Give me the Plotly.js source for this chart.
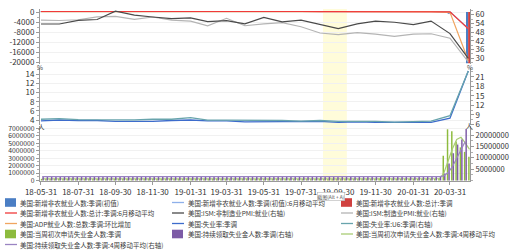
<!DOCTYPE html>
<html><head><meta charset="utf-8">
<script src="https://cdn.plot.ly/plotly-3.0.1.min.js"></script>
<style>html,body{margin:0;padding:0;background:#fff;}#chart{width:513px;height:251px;}</style>
</head><body><div id="chart"></div>
<script>
// ---------- DATA ----------
const monthDates = ['2018-05-31','2018-06-30','2018-07-31','2018-08-31','2018-09-30','2018-10-31','2018-11-30','2018-12-31',
  '2019-01-31','2019-02-28','2019-03-31','2019-04-30','2019-05-31','2019-06-30','2019-07-31','2019-08-31','2019-09-30','2019-10-31','2019-11-30','2019-12-31',
  '2020-01-31','2020-02-29','2020-03-31','2020-04-30'];
const nfpInitial   = [223,213,157,201,134,250,155,312, 304,20,196,263,75,224,164,130,136,128,266,145, 225,273,-701,-20500];
const nfpInitialMA = [207,215,205,209,200,193,185,202, 227,199,204,189,180,199,186,164,159,169,180,172, 183,196,47,-6600];
const nfpTotal     = [270,235,175,282,108,277,176,227, 312,1,189,224,62,182,194,207,208,185,261,184, 214,275,-870,-20537];
const nfpTotalMA   = [195,215,217,232,214,225,203,208, 218,218,198,213,197,166,195,176,184,191,205,200, 209,210,41,-6700];
const adpChange    = [178,177,219,163,230,227,179,271, 213,183,129,275,27,102,156,195,135,125,67,202, 291,183,-149,-19400];
const ismNonMfgEmp = [53.6,53.6,56.1,56.7,62.4,59.7,58.4,57.3, 57.8,55.2,55.9,53.7,58.1,55.0,56.2,53.1,50.4,53.7,55.5,54.8, 53.1,55.6,47.0,30.0];
const ismMfgEmp    = [56.3,56.0,56.5,58.5,58.8,56.8,58.4,56.2, 55.5,52.3,57.5,52.4,53.7,54.5,51.7,47.4,46.3,47.7,46.6,45.1, 46.6,46.9,43.8,27.5];
const unempRate    = [3.8,4.0,3.9,3.9,3.7,3.7,3.7,3.9, 4.0,3.8,3.8,3.6,3.6,3.7,3.7,3.7,3.5,3.6,3.5,3.5, 3.6,3.5,4.4,14.7];
const u6Rate       = [7.6,7.8,7.5,7.4,7.5,7.4,7.6,7.6, 8.1,7.3,7.3,7.3,7.1,7.2,7.0,7.2,6.9,7.0,6.9,6.7, 6.9,7.0,8.7,22.8];

const weekDates = ['2018-06-02','2018-06-09','2018-06-16','2018-06-23','2018-06-30','2018-07-07','2018-07-14','2018-07-21','2018-07-28',
  '2018-08-04','2018-08-11','2018-08-18','2018-08-25','2018-09-01','2018-09-08','2018-09-15','2018-09-22','2018-09-29',
  '2018-10-06','2018-10-13','2018-10-20','2018-10-27','2018-11-03','2018-11-10','2018-11-17','2018-11-24',
  '2018-12-01','2018-12-08','2018-12-15','2018-12-22','2018-12-29',
  '2019-01-05','2019-01-12','2019-01-19','2019-01-26','2019-02-02','2019-02-09','2019-02-16','2019-02-23',
  '2019-03-02','2019-03-09','2019-03-16','2019-03-23','2019-03-30','2019-04-06','2019-04-13','2019-04-20','2019-04-27',
  '2019-05-04','2019-05-11','2019-05-18','2019-05-25','2019-06-01','2019-06-08','2019-06-15','2019-06-22','2019-06-29',
  '2019-07-06','2019-07-13','2019-07-20','2019-07-27','2019-08-03','2019-08-10','2019-08-17','2019-08-24','2019-08-31',
  '2019-09-07','2019-09-14','2019-09-21','2019-09-28','2019-10-05','2019-10-12','2019-10-19','2019-10-26',
  '2019-11-02','2019-11-09','2019-11-16','2019-11-23','2019-11-30','2019-12-07','2019-12-14','2019-12-21','2019-12-28',
  '2020-01-04','2020-01-11','2020-01-18','2020-01-25','2020-02-01','2020-02-08','2020-02-15','2020-02-22','2020-02-29',
  '2020-03-07','2020-03-14','2020-03-21','2020-03-28','2020-04-04','2020-04-11','2020-04-18','2020-04-25','2020-05-02'];
const initialClaims = [222000,218000,218000,228000,231000,214000,208000,218000,217000,213000,212000,210000,213000,203000,205000,202000,215000,207000,
  214000,210000,215000,214000,214000,216000,224000,235000,231000,206000,214000,216000,231000,
  216000,213000,199000,253000,234000,239000,216000,226000,223000,229000,221000,211000,202000,196000,192000,230000,230000,
  228000,212000,211000,215000,218000,222000,216000,227000,221000,209000,216000,206000,215000,209000,220000,209000,215000,217000,
  204000,208000,213000,219000,210000,214000,212000,218000,211000,225000,227000,213000,203000,252000,234000,222000,222000,
  214000,204000,223000,216000,202000,205000,211000,219000,217000,211000,282000,3307000,6867000,6615000,5237000,4442000,3846000,3169000];
const initialClaimsMA4 = [221000,220000,220000,222000,224000,222000,220000,218000,214000,214000,215000,213000,212000,210000,208000,206000,206000,207000,
  210000,212000,212000,213000,213000,215000,217000,222000,227000,224000,222000,217000,217000,
  220000,219000,220000,220000,225000,231000,236000,229000,229000,226000,222000,221000,216000,208000,200000,205000,212000,
  220000,225000,220000,217000,214000,217000,218000,221000,222000,218000,218000,213000,212000,212000,213000,213000,213000,215000,
  212000,211000,211000,211000,213000,214000,214000,214000,214000,217000,220000,221000,217000,224000,228000,228000,233000,
  223000,216000,216000,214000,212000,212000,209000,209000,213000,212000,232000,998000,2667000,4268000,5507000,5790000,5035000,4173000];
const continuingClaims = [1700000,1720000,1710000,1740000,1750000,1750000,1740000,1730000,1730000,1720000,1730000,1700000,1710000,1700000,1650000,1660000,1650000,1660000,
  1640000,1640000,1630000,1630000,1670000,1660000,1710000,1650000,1660000,1690000,1700000,1740000,1720000,
  1740000,1740000,1780000,1720000,1770000,1730000,1800000,1760000,1760000,1750000,1760000,1720000,1710000,1650000,1670000,1670000,1680000,
  1660000,1680000,1680000,1690000,1700000,1680000,1690000,1690000,1690000,1700000,1680000,1700000,1690000,1730000,1670000,1700000,1680000,1670000,
  1660000,1650000,1690000,1680000,1680000,1690000,1690000,1680000,1690000,1660000,1640000,1690000,1670000,1720000,1730000,1730000,1800000,
  1770000,1730000,1740000,1700000,1690000,1720000,1720000,1730000,1700000,1700000,1780000,3030000,7460000,11980000,15820000,18010000,22650000,null];
const continuingClaimsMA4 = [1710000,1710000,1710000,1720000,1730000,1740000,1750000,1740000,1740000,1730000,1730000,1720000,1710000,1710000,1690000,1680000,1660000,1650000,
  1650000,1650000,1640000,1640000,1640000,1650000,1670000,1670000,1670000,1680000,1680000,1700000,1710000,
  1720000,1730000,1740000,1750000,1750000,1750000,1770000,1770000,1770000,1770000,1760000,1750000,1740000,1710000,1690000,1680000,1670000,
  1670000,1670000,1670000,1680000,1690000,1690000,1690000,1690000,1690000,1690000,1690000,1690000,1690000,1700000,1700000,1700000,1690000,1690000,
  1680000,1670000,1670000,1670000,1680000,1690000,1690000,1690000,1690000,1680000,1680000,1670000,1670000,1680000,1690000,1700000,1750000,
  1760000,1760000,1760000,1740000,1720000,1710000,1710000,1720000,1720000,1710000,1730000,2050000,3490000,6060000,9670000,13290000,17110000,null];

const xTickVals = ['2018-05-31','2018-07-31','2018-09-30','2018-11-30','2019-01-31','2019-03-31','2019-05-31','2019-07-31','2019-09-30','2019-11-30','2020-01-31','2020-03-31'];
const xTickText = ['18-05-31','18-07-31','18-09-30','18-11-30','19-01-31','19-03-31','19-05-31','19-07-31','19-09-30','19-11-30','20-01-31','20-03-31'];
const topLeftTicks = [0,-4000,-8000,-12000,-16000,-20000];
const topLeftText  = ['0','-4000','-8000','-12000','-16000','-20000'];
const topRightTicks = [30,36,42,48,54,60];
const midLeftTicks = [4,6,8,10,12,14];
const midRightTicks = [6,9,12,15,18,21];
const botLeftTicks = [0,1000000,2000000,3000000,4000000,5000000,6000000,7000000];
const botLeftText  = ['0','1000000','2000000','3000000','4000000','5000000','6000000','7000000'];
const botRightTicks = [5000000,10000000,15000000,20000000];
const botRightText  = ['5000000','10000000','15000000','20000000'];

const names = ['美国:新增非农就业人数:季调(初值)','美国:新增非农就业人数:季调(初值):6月移动平均','美国:新增非农就业人数:总计:季调',
  '美国:新增非农就业人数:总计:季调:6月移动平均','美国:ISM:非制造业PMI:就业(右轴)','美国:ISM:制造业PMI:就业(右轴)',
  '美国:ADP就业人数:总数:季调:环比增加','美国:失业率:季调','美国:失业率:U6:季调(右轴)',
  '美国:当周初次申请失业金人数:季调','美国:持续领取失业金人数:季调(右轴)','美国:当周初次申请失业金人数:季调:4周移动平均',
  '美国:持续领取失业金人数:季调:4周移动平均(右轴)'];

// ---------- STYLE ----------
const C = {
  nfpInit:'#4A7EC4', nfpInitMA:'#8EB0EA', nfpTot:'#D0413F', nfpTotMA:'#F03A3A',
  ismNon:'#4A4A4A', ismMfg:'#B4B4B4', adp:'#F0A560', unemp:'#3D6CCC', u6:'#68A4AC',
  ic:'#8DBB3E', cc:'#7D5BA6', icMA:'#A9CC74', ccMA:'#9A84C2'
};
const kinds = ['box','line','box','line','line','line','line','line','line','box','box','line','line'];
const colors = [C.nfpInit,C.nfpInitMA,C.nfpTot,C.nfpTotMA,C.ismNon,C.ismMfg,C.adp,C.unemp,C.u6,C.ic,C.cc,C.icMA,C.ccMA];
const FONT = '"Noto Sans CJK SC", "Noto Sans", sans-serif';
const DAY = 86400000;
const W = 513, H = 251;
const px = x => x / W;
const py = y => 1 - y / H;

const traces = [
  {type:'bar', name:names[0], x:monthDates, y:nfpInitial, yaxis:'y', marker:{color:C.nfpInit}, width:3.3*DAY, offset:-3.8*DAY},
  {type:'bar', name:names[2], x:monthDates, y:nfpTotal, yaxis:'y', marker:{color:C.nfpTot}, width:3.3*DAY, offset:-0.3*DAY},
  {type:'scatter', mode:'lines', name:names[1], x:monthDates, y:nfpInitialMA, yaxis:'y', line:{color:C.nfpInitMA, width:1.2}},
  {type:'scatter', mode:'lines', name:names[6], x:monthDates, y:adpChange, yaxis:'y', line:{color:C.adp, width:1.2}},
  {type:'scatter', mode:'lines', name:names[3], x:monthDates, y:nfpTotalMA, yaxis:'y', line:{color:C.nfpTotMA, width:1.2}},
  {type:'scatter', mode:'lines', name:names[5], x:monthDates, y:ismMfgEmp, yaxis:'y2', line:{color:C.ismMfg, width:1.2}},
  {type:'scatter', mode:'lines', name:names[4], x:monthDates, y:ismNonMfgEmp, yaxis:'y2', line:{color:C.ismNon, width:1.2}},
  {type:'scatter', mode:'lines', name:names[7], x:monthDates, y:unempRate, yaxis:'y3', line:{color:C.unemp, width:1.3}},
  {type:'scatter', mode:'lines', name:names[8], x:monthDates, y:u6Rate, yaxis:'y4', line:{color:C.u6, width:1.3}},
  {type:'bar', name:names[9], x:weekDates, y:initialClaims, yaxis:'y5', marker:{color:C.ic}, width:2.4*DAY, offset:-2.2*DAY},
  {type:'scatter', mode:'lines', name:names[11], x:weekDates, y:initialClaimsMA4, yaxis:'y5', line:{color:C.icMA, width:1.2}},
  {type:'bar', name:names[10], x:weekDates, y:continuingClaims, yaxis:'y6', marker:{color:C.cc}, width:2.4*DAY, offset:0.3*DAY},
  {type:'scatter', mode:'lines', name:names[12], x:weekDates, y:continuingClaimsMA4, yaxis:'y6', line:{color:C.ccMA, width:1.2}}
];
traces.forEach(t => { t.showlegend = false; t.hoverinfo = 'skip'; t.xaxis = 'x'; });

const axBase = {
  showline:true, linecolor:'#9a9a9a', linewidth:1, ticks:'outside', ticklen:3, tickcolor:'#9a9a9a',
  tickfont:{size:8, color:'#333', family:FONT}, zeroline:false, fixedrange:true, tickmode:'array'
};
const leftAx = (dom, rng, tv, tt, minorDt, fs) => Object.assign({}, axBase, {
  domain:dom, range:rng, tickvals:tv, ticktext:tt, anchor:'x', side:'left',
  showgrid:true, gridcolor:'#f1f1f1', gridwidth:1, tickfont:{size:fs, color:'#333', family:FONT},
  minor:{tickmode:'linear', tick0:0, dtick:minorDt, ticks:'outside', ticklen:2, tickcolor:'#b0b0b0', showgrid:false}
});
const rightAx = (ov, rng, tv, tt, minorDt, fs) => Object.assign({}, axBase, {
  overlaying:ov, range:rng, tickvals:tv, ticktext:tt, anchor:'x', side:'right', showgrid:false,
  tickfont:{size:fs, color:'#333', family:FONT},
  minor:{tickmode:'linear', tick0:0, dtick:minorDt, ticks:'outside', ticklen:2, tickcolor:'#b0b0b0', showgrid:false}
});

const domTop = [py(64), py(9)], domMid = [py(124.5), py(68)], domBot = [py(181), py(126)];

const shapes = [
  {type:'rect', xref:'x', yref:'paper', x0:'2019-09-05', x1:'2019-10-14', y0:py(181), y1:py(9),
   fillcolor:'#FFFCDA', line:{width:0}, layer:'below'}
];
const annotations = [
  {text:'%', x:px(40), y:py(67), xref:'paper', yref:'paper', showarrow:false, xanchor:'center', yanchor:'middle', font:{size:6.5, color:'#444', family:FONT}},
  {text:'%', x:px(470), y:py(67), xref:'paper', yref:'paper', showarrow:false, xanchor:'center', yanchor:'middle', font:{size:6.5, color:'#444', family:FONT}},
  {text:'人', x:px(41), y:py(126.5), xref:'paper', yref:'paper', showarrow:false, xanchor:'center', yanchor:'middle', font:{size:6.5, color:'#444', family:FONT}},
  {text:'人', x:px(469), y:py(125.5), xref:'paper', yref:'paper', showarrow:false, xanchor:'center', yanchor:'middle', font:{size:6.5, color:'#444', family:FONT}}
];
// legend (3 columns)
const colSym = [5, 172, 341], colTxt = [18, 186, 354];
const rowY = [202.5, 213, 223.5, 234, 244.5];
names.forEach((nm, i) => {
  const c = i % 3, r = Math.floor(i / 3), yy = rowY[r];
  if (kinds[i] === 'box') {
    shapes.push({type:'rect', xref:'paper', yref:'paper', x0:px(colSym[c]), x1:px(colSym[c] + 11),
      y0:py(yy + 4.3), y1:py(yy - 4.3), fillcolor:colors[i], line:{width:0}});
  } else {
    shapes.push({type:'line', xref:'paper', yref:'paper', x0:px(colSym[c]), x1:px(colSym[c] + 12),
      y0:py(yy), y1:py(yy), line:{color:colors[i], width:1.3}});
  }
  annotations.push({text:nm, x:px(colTxt[c]), y:py(yy), xref:'paper', yref:'paper', showarrow:false,
    xanchor:'left', yanchor:'middle', font:{size:6.5, color:'#3a3a3a', family:FONT}});
});
annotations.push({text:'截图(Alt + A)', x:px(330.5), y:py(196.3), xref:'paper', yref:'paper', showarrow:false,
  xanchor:'center', yanchor:'middle', bgcolor:'#ffffff', bordercolor:'#b5b5b5', borderwidth:0.6, borderpad:0,
  font:{size:4.8, color:'#555', family:FONT}});

const layout = {
  width:W, height:H, margin:{l:0, r:0, t:0, b:0}, paper_bgcolor:'#ffffff', plot_bgcolor:'rgba(0,0,0,0)',
  showlegend:false, barmode:'overlay', font:{family:FONT, size:8, color:'#333'},
  xaxis:Object.assign({}, axBase, {type:'date', domain:[px(40), px(470)], range:['2018-05-29 09:00','2020-05-02 19:00'],
    tickvals:xTickVals, ticktext:xTickText, anchor:'y5', showgrid:false, ticklen:3, tickfont:{size:8, color:'#333', family:FONT}}),
  yaxis:leftAx(domTop, [-20800, 1200], topLeftTicks, topLeftText, 2000, 8),
  yaxis2:rightAx('y', [26.1, 63.9], topRightTicks, topRightTicks.map(String), 3, 8),
  yaxis3:leftAx(domMid, [3.02, 15.38], midLeftTicks, midLeftTicks.map(String), 1, 8),
  yaxis4:rightAx('y3', [5.94, 23.74], midRightTicks, midRightTicks.map(String), 1.5, 8),
  yaxis5:leftAx(domBot, [-67000, 7310000], botLeftTicks, botLeftText, 500000, 6.8),
  yaxis6:rightAx('y5', [-220000, 23960000], botRightTicks, botRightText, 2500000, 7.5),
  shapes:shapes, annotations:annotations
};
Plotly.newPlot('chart', traces, layout, {staticPlot:true, displayModeBar:false});
</script></body></html>
